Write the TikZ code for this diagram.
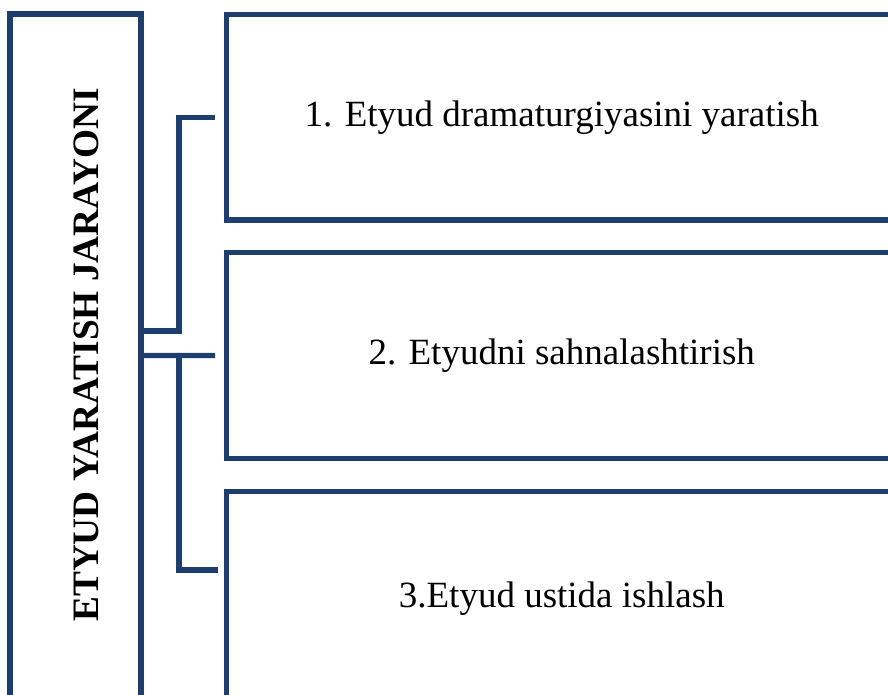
\documentclass[tikz,border=0pt]{standalone}
\usepackage{fontspec}
\setmainfont{Liberation Serif}
\definecolor{navy}{RGB}{30,63,109}
\begin{document}
\begin{tikzpicture}[x=1pt,y=-1pt,
  box/.style={draw=navy,line width=5.2pt,inner sep=0pt,fill=white},
  link/.style={draw=navy,line width=5.2pt},
  lbl/.style={font=\fontsize{37}{42}\selectfont}]
\useasboundingbox (0,0) rectangle (888,695);
\clip (0,0) rectangle (888,695);
\node[box,minimum width=131pt,minimum height=700pt] (L) at (75.5,364) {};
\node[font=\fontsize{37.3}{42}\selectfont\bfseries,rotate=90] (LT) at (86,355) {ETYUD YARATISH JARAYONI};
\node[box,lbl,minimum width=670.5pt,minimum height=205.5pt] (B1) at (561.75,117.25) {1. Etyud dramaturgiyasini yaratish};
\node[box,lbl,minimum width=670.5pt,minimum height=205.8pt] (B2) at (561.75,355.6) {2. Etyudni sahnalashtirish};
\node[box,lbl,minimum width=670.5pt,minimum height=213.5pt] (B3) at (561.75,598.25) {3.Etyud ustida ishlash};
\coordinate (m1) at (179,331);
\coordinate (m2) at (179,355.5);
\coordinate (e3) at (217.7,570);
\draw[link] (L.east |- m1) -- (m1) |- ([xshift=-8.8pt]B1.west);
\draw[link] (L.east |- m2) -- ([xshift=-8.8pt]B2.west);
\draw[link] (m2) |- (e3);
\end{tikzpicture}
\end{document}
